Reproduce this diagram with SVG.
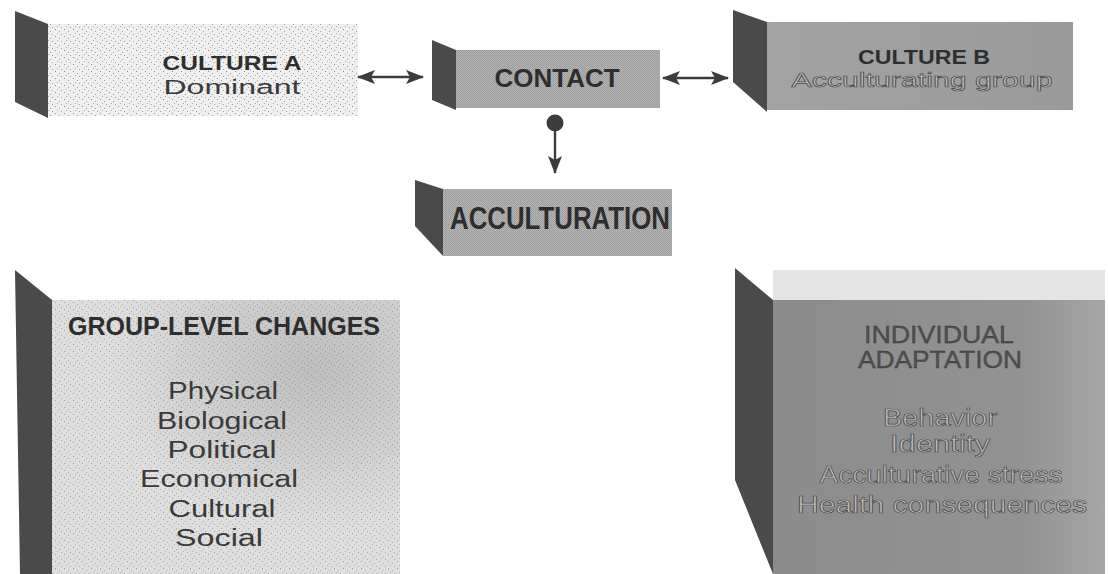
<svg xmlns="http://www.w3.org/2000/svg" width="1108" height="574" viewBox="0 0 1108 574">
<defs>
<style>
text{font-family:"Liberation Sans",Arial,sans-serif;text-anchor:middle}
.b{font-weight:bold;fill:#2e2e2e}
.r{fill:#3a3a3a}
.emb{fill:#bdbdbd;stroke:#4a4a4a;stroke-width:0.7}
.embd{fill:#505050;stroke:#333;stroke-width:0.3}
.side{fill:#4a4a4a}
.con{stroke:#3c3c3c;stroke-width:2.4;fill:none}
</style>
<pattern id="dith" width="2" height="2" patternUnits="userSpaceOnUse">
<rect x="0" y="0" width="1" height="1" fill="#555"/>
<rect x="1" y="1" width="1" height="1" fill="#555"/>
</pattern>
<pattern id="speck" width="9" height="7" patternUnits="userSpaceOnUse">
<rect x="1" y="1" width="1" height="1" fill="#777"/>
<rect x="5" y="3" width="1" height="1" fill="#888"/>
<rect x="3" y="5" width="1" height="1" fill="#999"/>
<rect x="7" y="6" width="1" height="1" fill="#888"/>
</pattern>
<linearGradient id="gB" x1="0" y1="0" x2="1" y2="0">
<stop offset="0" stop-color="#a3a3a3"/><stop offset="1" stop-color="#9a9a9a"/>
</linearGradient>
<linearGradient id="gI" x1="0" y1="0" x2="1" y2="0">
<stop offset="0" stop-color="#8c8c8c"/><stop offset="0.75" stop-color="#929292"/><stop offset="1" stop-color="#a6a6a6"/>
</linearGradient>
<radialGradient id="gG" cx="0.75" cy="0.25" r="0.6">
<stop offset="0" stop-color="#bdbdbd"/><stop offset="1" stop-color="#dedede"/>
</radialGradient>
<marker id="ah" viewBox="0 0 18 14" refX="17" refY="7" markerWidth="18" markerHeight="14" markerUnits="userSpaceOnUse" orient="auto-start-reverse">
<path d="M0,0 L18,7 L0,14 L4,7 Z" fill="#3c3c3c"/>
</marker>
</defs>
<rect width="1108" height="574" fill="#ffffff"/>

<g id="culture-a">
<polygon class="side" points="15,11 48,24 48,118 15,102" fill="#555"/>
<rect x="48" y="24" width="310" height="92" fill="#efefef"/>
<rect x="48" y="24" width="310" height="92" fill="url(#speck)" opacity="0.8"/>
<text class="b" x="232" y="70" font-size="20" textLength="139" lengthAdjust="spacingAndGlyphs">CULTURE A</text>
<text class="r" x="232" y="94" font-size="20" textLength="137" lengthAdjust="spacingAndGlyphs">Dominant</text>
</g>

<g id="contact">
<polygon class="side" points="432,40 456,50 456,110 432,100" fill="#3e3e3e"/>
<rect x="456" y="50" width="204" height="58" fill="#b4b4b4"/>
<rect x="456" y="50" width="204" height="58" fill="url(#dith)" opacity="0.25"/>
<text class="b" x="557" y="87" font-size="25" textLength="125" lengthAdjust="spacingAndGlyphs">CONTACT</text>
</g>

<g id="culture-b">
<polygon class="side" points="733,10 767,22 767,112 733,82" fill="#3c3c3c"/>
<rect x="767" y="22" width="306" height="88" fill="url(#gB)"/>
<text class="b" x="924" y="64" font-size="21" textLength="132" lengthAdjust="spacingAndGlyphs" fill="#333">CULTURE B</text>
<text class="emb" x="922" y="87" font-size="21" textLength="261" lengthAdjust="spacingAndGlyphs">Acculturating group</text>
</g>

<g id="acculturation">
<polygon class="side" points="415,180 443,189 443,256 415,226" fill="#444"/>
<rect x="443" y="189" width="229" height="67" fill="#b8b8b8"/>
<rect x="443" y="189" width="229" height="67" fill="url(#dith)" opacity="0.3"/>
<text class="b" x="560" y="229" font-size="31" textLength="220" lengthAdjust="spacingAndGlyphs" fill="#333">ACCULTURATION</text>
</g>

<g id="group-level">
<polygon class="side" points="15,270 52,300 52,574 20,574" fill="#5e5e5e"/>
<rect x="52" y="300" width="348" height="274" fill="url(#gG)"/>
<rect x="52" y="300" width="348" height="274" fill="url(#speck)" opacity="0.6"/>
<text class="b" x="224" y="335" font-size="25" textLength="312" lengthAdjust="spacingAndGlyphs">GROUP-LEVEL CHANGES</text>
<g class="r" font-size="23">
<text x="223" y="399" textLength="110" lengthAdjust="spacingAndGlyphs">Physical</text>
<text x="222" y="429" textLength="130" lengthAdjust="spacingAndGlyphs">Biological</text>
<text x="222" y="458" textLength="109" lengthAdjust="spacingAndGlyphs">Political</text>
<text x="219" y="487" textLength="158" lengthAdjust="spacingAndGlyphs">Economical</text>
<text x="222" y="517" textLength="107" lengthAdjust="spacingAndGlyphs">Cultural</text>
<text x="219" y="546" textLength="88" lengthAdjust="spacingAndGlyphs">Social</text>
</g>
</g>

<g id="individual-adaptation">
<rect x="773" y="270" width="332" height="30" fill="#e4e4e4"/>
<polygon class="side" points="735,268 773,300 773,574 735,480" fill="#383838"/>
<rect x="773" y="300" width="332" height="274" fill="url(#gI)"/>
<text class="embd" x="939" y="343" font-size="23" textLength="150" lengthAdjust="spacingAndGlyphs">INDIVIDUAL</text>
<text class="embd" x="940" y="368" font-size="23" textLength="164" lengthAdjust="spacingAndGlyphs">ADAPTATION</text>
<g font-size="23">
<text class="emb" x="940" y="426" textLength="114" lengthAdjust="spacingAndGlyphs">Behavior</text>
<text class="emb" x="940" y="452" textLength="100" lengthAdjust="spacingAndGlyphs">Identity</text>
<text class="emb" x="941" y="483" textLength="243" lengthAdjust="spacingAndGlyphs">Acculturative stress</text>
<text class="emb" x="942" y="513" textLength="290" lengthAdjust="spacingAndGlyphs">Health consequences</text>
</g>
</g>

<g id="connectors">
<line class="con" x1="358" y1="77" x2="423" y2="77" marker-start="url(#ah)" marker-end="url(#ah)"/>
<line class="con" x1="663" y1="78" x2="728" y2="78" marker-start="url(#ah)" marker-end="url(#ah)"/>
<circle cx="555" cy="123" r="8.5" fill="#3c3c3c"/>
<line class="con" x1="555" y1="128" x2="555" y2="173" marker-end="url(#ah)"/>
</g>
</svg>
